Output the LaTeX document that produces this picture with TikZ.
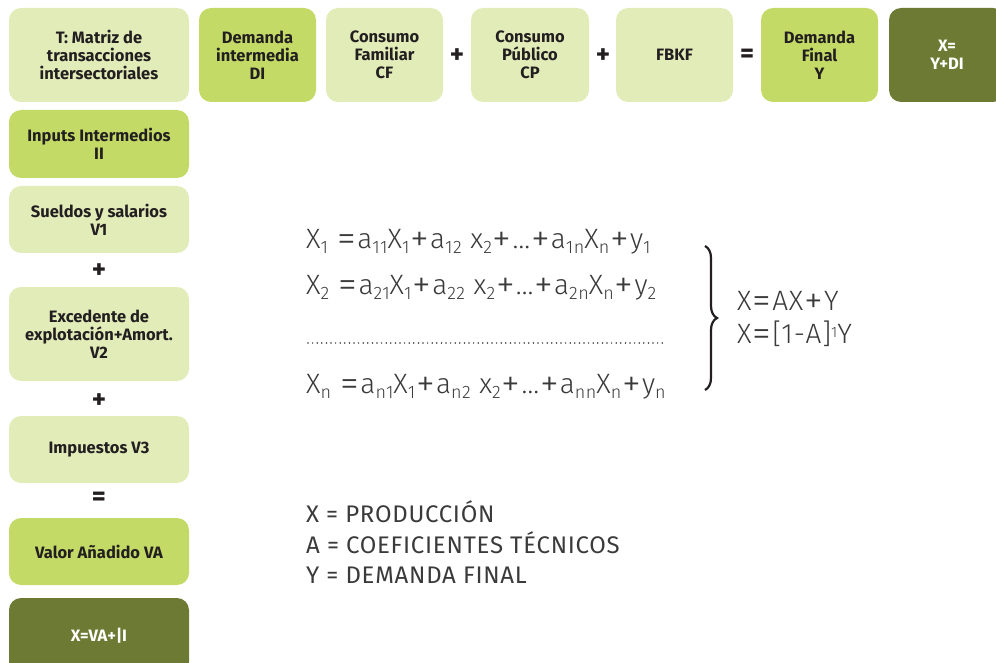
\documentclass[tikz,border=0pt]{standalone}
\usepackage{fontspec}
\setmainfont{Fira Sans}
\newfontfamily\lightf[LetterSpace=3]{Fira Sans Light}
\usetikzlibrary{decorations.pathreplacing}
\definecolor{lightg}{HTML}{E2ECB9}
\definecolor{midg}{HTML}{C4DA67}
\definecolor{darkg}{HTML}{6D7A33}
\definecolor{txt}{HTML}{231F20}
\definecolor{eqc}{HTML}{3A3A3A}
\newcommand{\lo}[1]{\raisebox{-5.5pt}{\fontsize{18}{18}\selectfont #1}}
\newcommand{\hi}[1]{\raisebox{6pt}{\fontsize{15}{15}\selectfont #1}}
\newcommand{\pls}{\kern1pt\raisebox{-3.2pt}{\fontsize{38}{28}\selectfont +}\kern1pt}
\newcommand{\eqs}{\kern1pt\raisebox{-3.2pt}{\fontsize{38}{28}\selectfont =}\kern1pt}
\tikzset{
  box/.style={rounded corners=12pt, draw=none, align=center, text=txt, inner sep=0pt,
    font=\bfseries\fontsize{16.5}{18}\selectfont},
  lbox/.style={box, fill=lightg},
  mbox/.style={box, fill=midg},
  dbox/.style={box, fill=darkg, text=white},
  op/.style={font=\bfseries\fontsize{27}{27}\selectfont, text=txt, inner sep=0pt},
  eq/.style={anchor=base west, inner sep=0pt, text=eqc, font=\lightf\fontsize{28}{28}\selectfont},
  leg/.style={anchor=base west, inner sep=0pt, text=eqc, font=\fontsize{24}{24}\selectfont\addfontfeatures{LetterSpace=3}},
}
\begin{document}
\begin{tikzpicture}[x=1pt,y=-1pt]
\useasboundingbox (0,0) rectangle (996,663);
% top row
\node[lbox, minimum width=180pt, minimum height=94pt] (T) at (99,55) {T: Matriz de\\transacciones\\intersectoriales};
\node[mbox, minimum width=117pt, minimum height=94pt] (DI) at (257.5,55) {Demanda\\intermedia\\DI};
\node[lbox, minimum width=117pt, minimum height=94pt] (CF) at (384.5,55) {Consumo\\Familiar\\CF};
\node[op] (p1) at (457,56) {+};
\node[lbox, minimum width=118pt, minimum height=94pt] (CP) at (530,55) {Consumo\\Público\\CP};
\node[op] (p2) at (603,56) {+};
\node[lbox, minimum width=117pt, minimum height=94pt] (FBKF) at (674.5,55) {FBKF};
\node[op] (e1) at (747,56) {=};
\node[mbox, minimum width=117pt, minimum height=94pt] (Y) at (819.5,55) {Demanda\\Final\\Y};
\node[dbox, minimum width=116pt, minimum height=94pt] (X) at (947,55) {X=\\Y+DI};
% left column
\node[mbox, minimum width=180pt, minimum height=68pt] (II) at (99,144) {Inputs Intermedios\\II};
\node[lbox, minimum width=180pt, minimum height=67pt] (V1) at (99,219.5) {Sueldos y salarios\\V1};
\node[op] (p3) at (99,271) {+};
\node[lbox, minimum width=180pt, minimum height=94pt] (V2) at (99,334) {Excedente de\\explotación+Amort.\\V2};
\node[op] (p4) at (99,401) {+};
\node[lbox, minimum width=180pt, minimum height=67pt] (V3) at (99,449.5) {Impuestos V3};
\node[op] (e2) at (99,499) {=};
\node[mbox, minimum width=180pt, minimum height=67pt] (VA) at (99,551.5) {Valor Añadido VA};
\node[dbox, minimum width=180pt, minimum height=76pt] (XV) at (99,636) {X=VA+|I};
% equations
\node[eq] (r1) at (306,248) {X\lo{1} \eqs a\lo{11}X\lo{1}\pls a\lo{12} x\lo{2}\pls …\pls a\lo{1n}X\lo{n}\pls y\lo{1}};
\node[eq] (r2) at (306,294) {X\lo{2} \eqs a\lo{21}X\lo{1}\pls a\lo{22} x\lo{2}\pls …\pls a\lo{2n}X\lo{n}\pls y\lo{2}};
\coordinate (d1) at (308,343);
\coordinate (d2) at (664,343);
\draw[eqc, line width=1.7pt, line cap=round, dash pattern=on 0pt off 4.6pt] (d1) -- (d2);
\node[eq] (rn) at (306,393) {X\lo{n} \eqs a\lo{n1}X\lo{1}\pls a\lo{n2} x\lo{2}\pls …\pls a\lo{nn}X\lo{n}\pls y\lo{n}};
\coordinate (b1) at (705,246);
\coordinate (b2) at (705,390);
\draw[txt, line width=2.2pt, decorate, decoration={brace, amplitude=12pt}] (b1) -- (b2);
\node[eq, align=left, font=\lightf\fontsize{28}{33}\selectfont] (s) at (737,343) {X\eqs AX\pls Y\\X\eqs [1-A]\hi{1}Y};
% legend
\node[leg] (l1) at (306,522) {X = PRODUCCIÓN};
\node[leg] (l2) at (306,553) {A = COEFICIENTES TÉCNICOS};
\node[leg] (l3) at (306,583) {Y = DEMANDA FINAL};
\end{tikzpicture}
\end{document}
